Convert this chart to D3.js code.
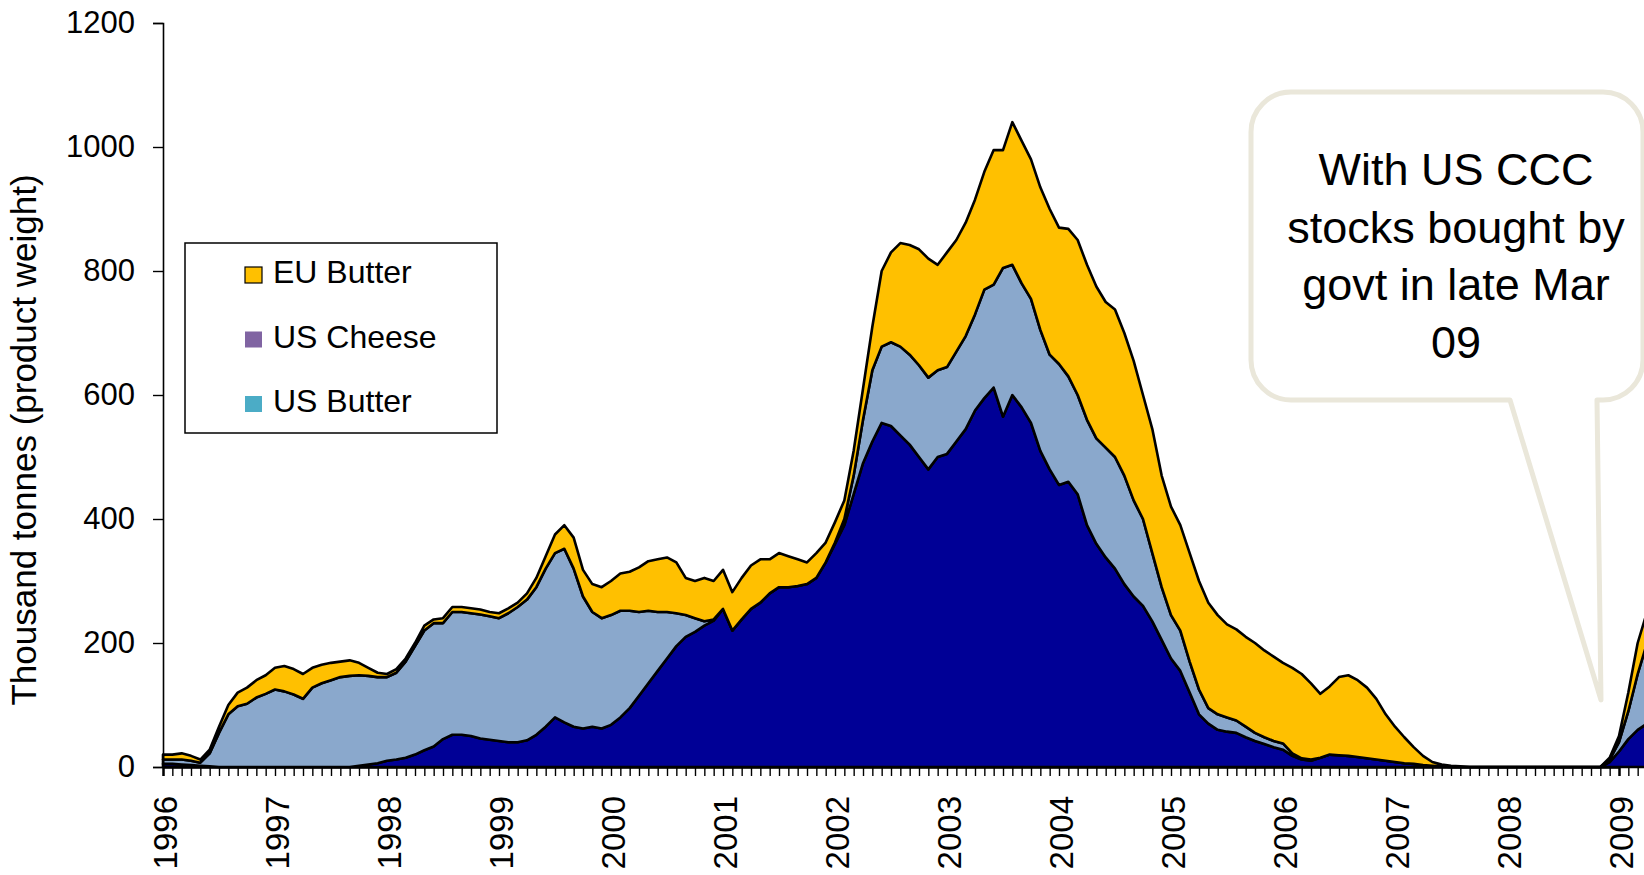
<!DOCTYPE html>
<html>
<head>
<meta charset="utf-8">
<script src="https://cdn.jsdelivr.net/npm/d3@7"></script>
<style>
  html, body { margin: 0; padding: 0; background: #fff; }
  svg { display: block; }
  text { font-family: "Liberation Sans", Arial, sans-serif; }
</style>
</head>
<body>
<svg id="chart" width="1644" height="875"></svg>
<script>
// Monthly public stocks, Jan 1996 onwards (thousand tonnes, product weight)
const yearLabels = ["1996","1997","1998","1999","2000","2001","2002","2003","2004","2005","2006","2007","2008","2009"];
const yTicks = [0, 200, 400, 600, 800, 1000, 1200];

// bottom layer (navy)
const navyLayer = [
  5,5,4,3,2,1,0,0,0,0,0,0,
  0,0,0,0,0,0,0,0,0,2,4,6,
  10,12,15,20,27,33,45,52,52,50,46,44,
  42,40,40,43,52,65,80,72,65,62,65,62,
  68,80,95,115,135,155,175,195,210,218,228,236,
  255,220,238,255,265,280,290,290,292,295,305,330,
  360,390,440,490,525,555,550,535,520,500,480,500,
  505,525,545,575,595,612,565,600,580,555,510,480,
  455,460,440,390,360,338,320,295,275,260,235,205,
  175,155,120,85,70,60,57,55,48,42,37,32,
  28,18,12,10,15,20,19,18,16,14,12,10,
  8,6,5,3,2,1,0,0,0,0,0,0,
  0,0,0,0,0,0,0,0,0,0,0,8,
  25,45,60,70
];
// middle layer (light blue)
const blueLayer = [
  7,7,8,7,5,21,55,85,98,102,112,118,
  125,122,117,110,128,135,140,145,147,146,143,139,
  135,140,155,175,193,199,187,198,198,198,200,199,
  198,208,218,227,238,255,265,280,255,213,185,178,
  177,172,157,135,117,95,75,53,35,22,7,2,
  0,0,0,0,0,0,0,0,0,0,0,0,
  2,10,30,70,115,123,135,143,145,148,148,140,
  140,145,150,155,175,166,240,210,200,200,195,185,
  195,170,160,170,170,177,180,175,155,140,110,85,
  70,65,50,40,25,25,23,20,17,13,11,10,
  10,4,2,2,0,0,0,0,0,0,0,0,
  0,0,0,0,0,0,0,0,0,0,0,0,
  0,0,0,0,0,0,0,0,0,0,0,4,
  15,45,90,130
];
// top layer (gold)
const goldLayer = [
  8,8,10,8,5,6,10,15,22,26,28,30,
  35,41,41,40,32,30,28,25,25,20,13,7,
  5,6,5,5,8,6,8,8,8,8,8,7,
  8,8,7,10,15,20,30,38,50,43,45,50,
  55,60,63,72,80,85,88,82,60,60,70,62,
  63,62,67,70,70,55,55,50,43,35,40,32,
  33,30,40,50,70,122,145,167,177,187,192,170,
  185,180,183,185,190,217,190,230,230,225,230,235,
  220,238,250,250,245,235,238,230,225,200,200,180,
  175,170,175,175,170,160,150,147,145,145,140,136,
  130,138,136,123,103,110,126,130,124,114,98,75,
  57,42,27,15,6,3,2,1,0,0,0,0,
  0,0,0,0,0,0,0,0,0,0,0,3,
  10,30,50,50
];

const legendItems = [
  { label: "EU Butter", color: "#FFC000", border: true },
  { label: "US Cheese", color: "#8064A2", border: false },
  { label: "US Butter", color: "#4BACC6", border: false }
];
const calloutLines = ["With US CCC", "stocks bought by", "govt in late Mar", "09"];

const svg = d3.select("#chart");

const rows = navyLayer.map((v, i) => ({ i, navy: v, blue: blueLayer[i], gold: goldLayer[i] }));

const x = d3.scaleLinear().domain([0, 156]).range([163, 1619]);
const y = d3.scaleLinear().domain([0, 1200]).range([767, 23]);

const stack = d3.stack().keys(["navy", "blue", "gold"]);
const layers = stack(rows);
const fills = { navy: "#000096", blue: "#8AA8CC", gold: "#FFC000" };

const area = d3.area()
  .x(d => x(d.data.i))
  .y0(d => y(d[0]))
  .y1(d => y(d[1]));

svg.append("g")
  .selectAll("path")
  .data(layers)
  .join("path")
  .attr("d", area)
  .attr("fill", d => fills[d.key])
  .attr("stroke", "#000")
  .attr("stroke-width", 2.6)
  .attr("stroke-linejoin", "round");

// y axis
const yAxis = d3.axisLeft(y).tickValues(yTicks).tickSize(10).tickPadding(18).tickFormat(d3.format("d"));
const gy = svg.append("g").attr("transform", `translate(${x(0)},0)`).call(yAxis);
gy.select(".domain").attr("stroke", "#000").attr("stroke-width", 1.6);
gy.selectAll(".tick line").attr("stroke", "#000").attr("stroke-width", 1.4);
gy.selectAll(".tick text")
  .attr("font-size", 31)
  .attr("font-family", "Liberation Sans, Arial, sans-serif")
  .attr("fill", "#000");

// x axis: monthly tick marks, a year label every 12 months
const monthTicks = d3.range(0, 160);
const xAxis = d3.axisBottom(x).tickValues(monthTicks).tickSize(9).tickFormat("");
const gx = svg.append("g").attr("transform", `translate(0,${y(0)})`).call(xAxis);
gx.select(".domain").attr("stroke", "#000").attr("stroke-width", 2.4);
gx.selectAll(".tick line").attr("stroke", "#000").attr("stroke-width", 1.4);

svg.append("g")
  .selectAll("text")
  .data(yearLabels)
  .join("text")
  .attr("transform", (d, k) => `translate(${x(k * 12) + 2},${y(0) + 29}) rotate(-90)`)
  .attr("text-anchor", "end")
  .attr("dy", "0.36em")
  .attr("font-size", 33)
  .attr("fill", "#000")
  .text(d => d);

// y axis title
svg.append("text")
  .attr("transform", "translate(36,440) rotate(-90)")
  .attr("text-anchor", "middle")
  .attr("font-size", 35)
  .attr("fill", "#000")
  .text("Thousand tonnes (product weight)");

// legend box
const lg = svg.append("g");
lg.append("rect")
  .attr("x", 185).attr("y", 243).attr("width", 312).attr("height", 190)
  .attr("fill", "#fff").attr("stroke", "#000").attr("stroke-width", 1.5);
const li = lg.selectAll("g.item").data(legendItems).join("g")
  .attr("transform", (d, k) => `translate(245,${283 + k * 64.5})`);
li.append("rect")
  .attr("x", 0).attr("y", -16).attr("width", 17).attr("height", 16)
  .attr("fill", d => d.color)
  .attr("stroke", d => d.border ? "#000" : "none")
  .attr("stroke-width", 1.2);
li.append("text")
  .attr("x", 28).attr("y", 0)
  .attr("font-size", 32)
  .attr("fill", "#000")
  .text(d => d.label);

// speech-bubble callout
const co = svg.append("g");
const bx = 1251, by = 92, bw = 392, bh = 308, r = 40;
const tailL = 1510, tailR = 1597, tipX = 1601, tipY = 700;
const bubble = d3.path();
bubble.moveTo(bx + r, by);
bubble.lineTo(bx + bw - r, by);
bubble.arcTo(bx + bw, by, bx + bw, by + r, r);
bubble.lineTo(bx + bw, by + bh - r);
bubble.arcTo(bx + bw, by + bh, bx + bw - r, by + bh, r);
bubble.lineTo(tailR, by + bh);
bubble.lineTo(tipX, tipY);
bubble.lineTo(tailL, by + bh);
bubble.lineTo(bx + r, by + bh);
bubble.arcTo(bx, by + bh, bx, by + bh - r, r);
bubble.lineTo(bx, by + r);
bubble.arcTo(bx, by, bx + r, by, r);
bubble.closePath();
co.append("path")
  .attr("d", bubble.toString())
  .attr("fill", "#fff")
  .attr("stroke", "#EAE7DA")
  .attr("stroke-width", 5)
  .attr("stroke-linejoin", "round");
co.append("g")
  .selectAll("text")
  .data(calloutLines)
  .join("text")
  .attr("x", 1456)
  .attr("y", (d, k) => 185 + k * 57.5)
  .attr("text-anchor", "middle")
  .attr("font-family", "Lato, 'Open Sans', sans-serif")
  .attr("font-size", 45)
  .attr("fill", "#000")
  .text(d => d);
</script>
</body>
</html>
